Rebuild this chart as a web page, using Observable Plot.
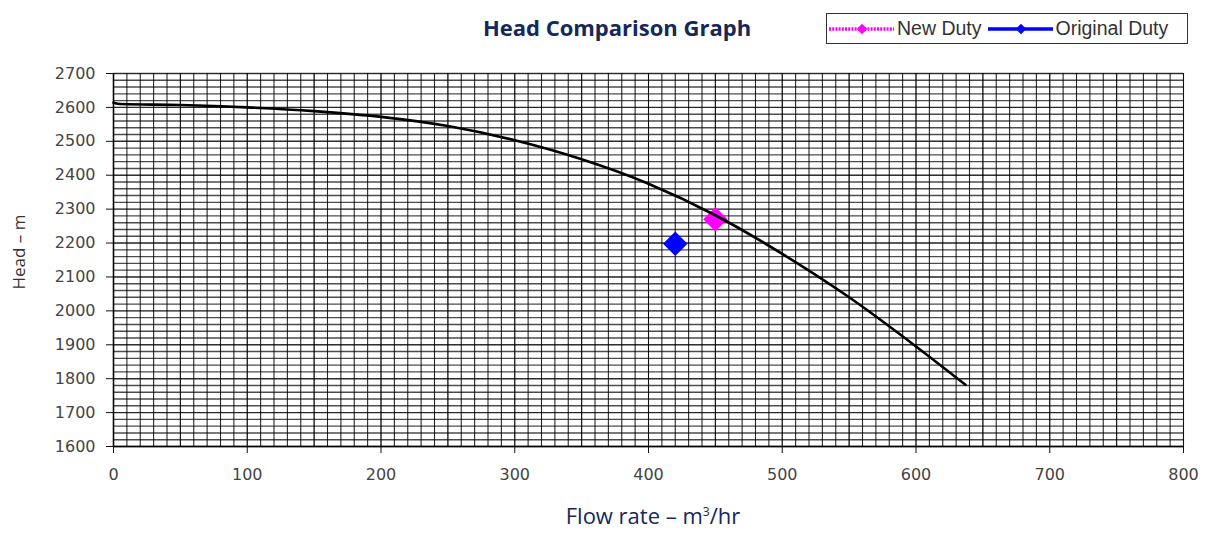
<!DOCTYPE html>
<html>
<head>
<meta charset="utf-8">
<script src="https://cdn.jsdelivr.net/npm/d3@7"></script>
<script src="https://cdn.jsdelivr.net/npm/@observablehq/plot@0.6"></script>
<style>
  html, body { margin: 0; padding: 0; background: #fff; }
  #wrap { position: relative; width: 1212px; height: 541px; overflow: hidden; }
  #head { position: relative; height: 56px; }
  #title { position: absolute; left: 417px; width: 400px; top: 12px; text-align: center;
           font: bold 22px "Open Sans", sans-serif; color: #14285a; }
  #legend { position: absolute; left: 826px; top: 13px; width: 360px; height: 29px;
            border: 1px solid #333; box-sizing: content-box; display: flex; align-items: center;
            font: 19.5px "Liberation Sans", Arial, sans-serif; color: #333; white-space: nowrap; }
  #legend svg { display: block; }
  #xlabel { position: absolute; left: 453px; width: 400px; top: 500px; text-align: center;
            font: 22px "Open Sans", sans-serif; color: #14285a; }
  #xlabel sup { font-size: 12px; vertical-align: 8px; line-height: 0; }
  #ylabel { position: absolute; left: 18px; top: 252px; transform: translate(-50%, -50%) rotate(-90deg);
            font: 17px "Open Sans", sans-serif; color: #333; white-space: nowrap; }
</style>
</head>
<body>
<div id="wrap">
  <div id="head">
    <div id="title">Head Comparison Graph</div>
    <div id="legend"></div>
  </div>
  <div id="chart"></div>
  <div id="xlabel">Flow rate – m<sup>3</sup>/hr</div>
  <div id="ylabel">Head – m</div>
</div>
<script>
// Pump curve (flow m3/hr, head m)
const curveFlow = [0, 5, 50, 100, 150, 200, 250, 300, 350, 400, 450, 500, 550, 600, 637];
const curveHead = [2614, 2610, 2607, 2600, 2589, 2572, 2545, 2503, 2447, 2375, 2282, 2168, 2040, 1895, 1782];

// Duty points
const seriesNames = ["New Duty", "Original Duty"];
const seriesColors = ["#ff00ff", "#0000ff"];
const dutyFlow = [450, 420];
const dutyHead = [2270, 2198];

// Axis ticks
const xTicks = [0, 100, 200, 300, 400, 500, 600, 700, 800];
const yTicks = [1600, 1700, 1800, 1900, 2000, 2100, 2200, 2300, 2400, 2500, 2600, 2700];

const curve = curveFlow.map((f, i) => ({flow: f, head: curveHead[i]}));
const duties = seriesNames.map((n, i) => ({name: n, flow: dutyFlow[i], head: dutyHead[i], color: seriesColors[i]}));

const chart = Plot.plot({
  width: 1212,
  height: 441,
  marginLeft: 113,
  marginRight: 29,
  marginTop: 17,
  marginBottom: 51,
  style: {background: "#fff", overflow: "visible"},
  x: {domain: [0, 800]},
  y: {domain: [1600, 2700]},
  marks: [
    Plot.gridX({ticks: 80, stroke: "#000", strokeOpacity: 0.85, strokeWidth: 1.1}),
    Plot.gridY({ticks: 55, stroke: "#000", strokeOpacity: 0.7, strokeWidth: 1.4}),
    Plot.gridX({ticks: 16, stroke: "#000", strokeOpacity: 0.6, strokeWidth: 1}),
    Plot.gridY({ticks: 11, stroke: "#000", strokeOpacity: 0.5, strokeWidth: 1}),
    Plot.axisX({ticks: xTicks, tickSize: 7, tickPadding: 15, label: null, fontSize: 16,
                fontFamily: "DejaVu Sans", fill: "#444", stroke: "#111", tickFormat: d => String(d)}),
    Plot.axisY({ticks: yTicks, tickSize: 7, tickPadding: 11, label: null, fontSize: 16,
                fontFamily: "DejaVu Sans", fill: "#444", stroke: "#111", tickFormat: d => String(d)}),
    Plot.ruleX([0], {stroke: "#000", strokeWidth: 1.5}),
    Plot.ruleY([1600], {stroke: "#000", strokeWidth: 1.5}),
    Plot.dot(duties.slice(0, 1), {x: "flow", y: "head", symbol: "diamond2", r: 11, fill: "color", stroke: "none"}),
    Plot.line(curve, {x: "flow", y: "head", stroke: "#000", strokeWidth: 2.6, curve: "monotone-x"}),
    Plot.dot(duties.slice(1), {x: "flow", y: "head", symbol: "diamond2", r: 11, fill: "color", stroke: "none"})
  ]
});
document.getElementById("chart").appendChild(chart);

// Legend
const legend = d3.select("#legend");
duties.forEach((d, i) => {
  const sw = legend.append("svg").attr("width", 66).attr("height", 16)
    .style("margin-left", i === 0 ? "2px" : "6px");
  sw.append("line").attr("x1", 0).attr("x2", 65).attr("y1", 8).attr("y2", 8)
    .attr("stroke", d.color).attr("stroke-width", 3.5)
    .attr("stroke-dasharray", i === 0 ? "2,1.2" : null);
  sw.append("path").attr("d", d3.symbol(d3.symbolDiamond2, 70)()).attr("transform", "translate(33,8)")
    .attr("fill", d.color);
  legend.append("span").text(d.name).style("margin-left", "2px");
});
</script>
</body>
</html>
